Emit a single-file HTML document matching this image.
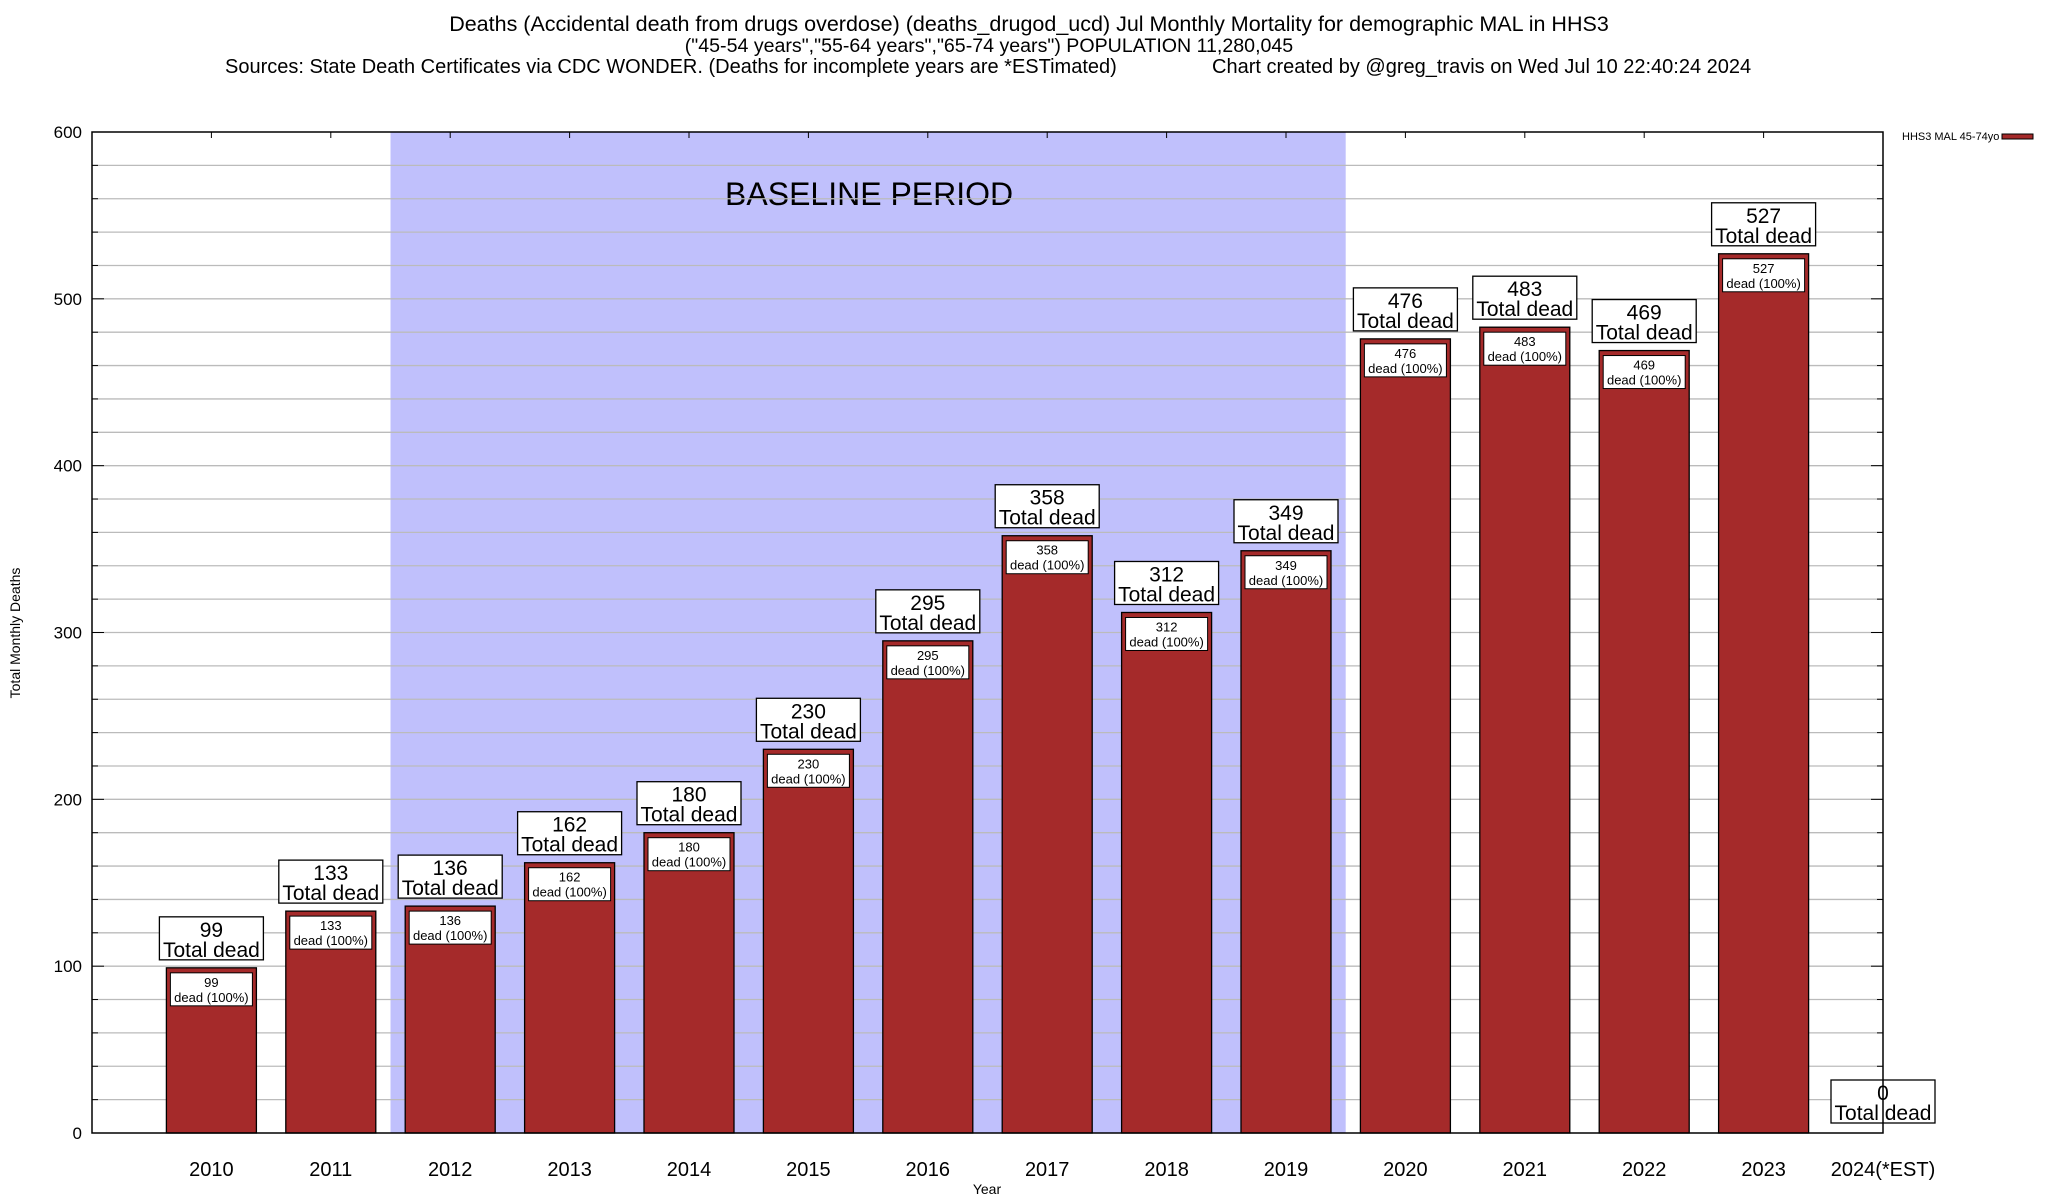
<!DOCTYPE html>
<html><head><meta charset="utf-8"><style>
body{margin:0;background:#fff;}
svg{display:block;font-family:"Liberation Sans",sans-serif;}
</style></head><body>
<svg id="chart" width="2048" height="1200" viewBox="0 0 2048 1200">
<rect width="2048" height="1200" fill="#fff"/>
<g>
<text x="1029" y="31" text-anchor="middle" font-size="21.5">Deaths (Accidental death from drugs overdose) (deaths_drugod_ucd) Jul Monthly Mortality for demographic MAL in HHS3</text>
<text x="989" y="52" text-anchor="middle" font-size="19.6">("45-54 years","55-64 years","65-74 years") POPULATION 11,280,045</text>
<text x="225" y="73" font-size="20">Sources: State Death Certificates via CDC WONDER. (Deaths for incomplete years are *ESTimated)</text>
<text x="1212" y="73" font-size="20">Chart created by @greg_travis on Wed Jul 10 22:40:24 2024</text>
</g>
<g id="plot"></g>
<text x="20" y="633" font-size="14" text-anchor="middle" transform="rotate(-90 20 633)">Total Monthly Deaths</text>
<text x="987" y="1194" font-size="14" text-anchor="middle">Year</text>
<g>
<text x="1902" y="140" font-size="11">HHS3 MAL 45-74yo</text>
<rect x="2002" y="134" width="31" height="5" fill="#a52a2a" stroke="#000" stroke-width="1"/>
</g>
</svg>
<script>
const categories=["2010","2011","2012","2013","2014","2015","2016","2017","2018","2019","2020","2021","2022","2023","2024(*EST)"];
const values=[99,133,136,162,180,230,295,358,312,349,476,483,469,527,0];
const yTicks=[0,100,200,300,400,500,600];
const baselineStart=2, baselineEnd=9;
const L=92,R=1883,T=132,B=1133,ymax=600;
const NS="http://www.w3.org/2000/svg";
const slot=(R-L)/15;
function xc(i){return L+(i+1)*slot;}
function y(v){return B-v/ymax*(B-T);}
const g=document.getElementById('plot');
function el(tag,attrs,parent){const e=document.createElementNS(NS,tag);for(const k in attrs)e.setAttribute(k,attrs[k]);(parent||g).appendChild(e);return e;}
const band=el('rect',{x:xc(baselineStart)-slot/2,y:T,width:xc(baselineEnd)-xc(baselineStart)+slot,height:B-T,fill:'#c0c0fc'});


const bt=el('text',{x:(xc(baselineStart)+xc(baselineEnd))/2+1,y:205,'font-size':32,'text-anchor':'middle'});
bt.textContent='BASELINE PERIOD';


for(let v=20;v<ymax;v+=20){
 const ln=el('line',{x1:L,x2:R,y1:y(v),y2:y(v),stroke:'#bbb','stroke-width':1.3});
 
 
 el('line',{x1:L,x2:L+(v%100?6:12),y1:y(v),y2:y(v),stroke:'#000'});
 el('line',{x1:R,x2:R-(v%100?6:12),y1:y(v),y2:y(v),stroke:'#000'});
}
yTicks.forEach(v=>{
 const t=el('text',{x:L-10,y:y(v)+6,'font-size':17,'text-anchor':'end'});
 t.textContent=v;
 
 
});
categories.forEach((c,i)=>{
 const cx=xc(i),v=values[i];
 if(v>0){
  const b=el('rect',{x:cx-45,y:y(v),width:90,height:B-y(v),fill:'#a52a2a',stroke:'#000','stroke-width':1.3});
  
  
  const ib=el('rect',{x:cx-41,y:y(v)+5,width:82,height:33,fill:'#fff',stroke:'#000','stroke-width':1});
  
  
  const t1=el('text',{x:cx,y:y(v)+19,'font-size':13,'text-anchor':'middle'});t1.textContent=v;
  
  
  const t2=el('text',{x:cx,y:y(v)+34,'font-size':13,'text-anchor':'middle'});t2.textContent='dead (100%)';
  
  
 }
 const by=v>0?y(v)-51:1080;
 const ob=el('rect',{x:cx-52,y:by,width:104,height:43,fill:'#fff',stroke:'#000','stroke-width':1.3});
 
 
 const t3=el('text',{x:cx,y:by+20,'font-size':21,'text-anchor':'middle'});t3.textContent=v;
 
 
 const t4=el('text',{x:cx,y:by+40,'font-size':21,'text-anchor':'middle'});t4.textContent='Total dead';
 
 
 el('line',{x1:cx,x2:cx,y1:T,y2:T+6,stroke:'#000'});
 const xl=el('text',{x:cx,y:1176,'font-size':20,'text-anchor':'middle'});xl.textContent=c;
 
 
});
const fr=el('rect',{x:L,y:T,width:R-L,height:B-T,fill:'none',stroke:'#000','stroke-width':1.5});


</script>
</body></html>
